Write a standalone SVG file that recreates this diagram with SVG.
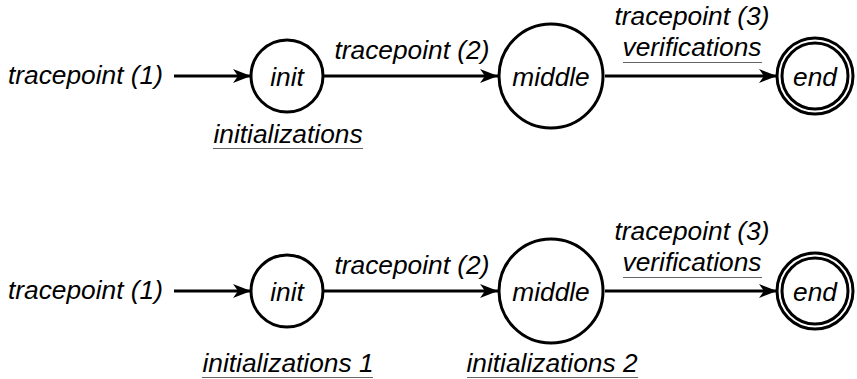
<svg xmlns="http://www.w3.org/2000/svg" width="857" height="379" viewBox="0 0 857 379">
  <style>
    .state { fill: none; stroke: #000; stroke-width: 3; }
    .edge { fill: none; stroke: #000; stroke-width: 3; }
    .lbl { font-family: "Liberation Sans", Arial, Helvetica, sans-serif; font-style: italic; font-size: 26.3px; fill: #000; }
    .mid { text-anchor: middle; }
    .ul { stroke: #666; stroke-width: 1.2; }
  </style>
  <defs>
    <marker id="arrow" markerUnits="userSpaceOnUse" markerWidth="20" markerHeight="16" refX="18" refY="8" orient="auto">
      <path d="M0,1 L18,8 L0,15 L5,8 Z" fill="#000"/>
    </marker>
  </defs>
  <rect width="857" height="379" fill="#fff"/>

  <!-- top automaton -->
  <g id="connectors-top">
    <line class="edge" x1="174" y1="76" x2="251" y2="76" marker-end="url(#arrow)"/>
    <line class="edge" x1="323" y1="76" x2="498" y2="76" marker-end="url(#arrow)"/>
    <line class="edge" x1="605" y1="76" x2="777" y2="76" marker-end="url(#arrow)"/>
  </g>
  <g id="start-top">
    <text class="lbl" x="8" y="84">tracepoint (1)</text>
  </g>
  <g id="init-top">
    <circle class="state" cx="287" cy="76" r="36"/>
    <text class="lbl mid" x="287" y="86">init</text>
    <text class="lbl mid" x="288" y="143">initializations</text>
    <line class="ul" x1="213" y1="148.5" x2="363" y2="148.5"/>
  </g>
  <g id="middle-top">
    <circle class="state" cx="551" cy="76" r="52"/>
    <text class="lbl mid" x="551" y="86">middle</text>
  </g>
  <g id="end-top">
    <circle class="state" cx="815" cy="76" r="38"/>
    <circle class="state" cx="815" cy="76" r="33" stroke-width="2"/>
    <text class="lbl mid" x="815" y="86">end</text>
  </g>
  <g id="edge-labels-top">
    <text class="lbl mid" x="412" y="59">tracepoint (2)</text>
    <text class="lbl mid" x="692" y="25">tracepoint (3)</text>
    <text class="lbl mid" x="692" y="56">verifications</text>
    <line class="ul" x1="623" y1="62.5" x2="762" y2="62.5"/>
  </g>

  <!-- bottom automaton -->
  <g id="connectors-bottom">
    <line class="edge" x1="174" y1="291" x2="251" y2="291" marker-end="url(#arrow)"/>
    <line class="edge" x1="323" y1="291" x2="498" y2="291" marker-end="url(#arrow)"/>
    <line class="edge" x1="605" y1="291" x2="777" y2="291" marker-end="url(#arrow)"/>
  </g>
  <g id="start-bottom">
    <text class="lbl" x="8" y="299">tracepoint (1)</text>
  </g>
  <g id="init-bottom">
    <circle class="state" cx="287" cy="291" r="36"/>
    <text class="lbl mid" x="287" y="301">init</text>
    <text class="lbl mid" x="288" y="372">initializations 1</text>
    <line class="ul" x1="202" y1="377.5" x2="373" y2="377.5"/>
  </g>
  <g id="middle-bottom">
    <circle class="state" cx="551" cy="291" r="52"/>
    <text class="lbl mid" x="551" y="301">middle</text>
    <text class="lbl mid" x="552" y="372">initializations 2</text>
    <line class="ul" x1="467" y1="377.5" x2="638" y2="377.5"/>
  </g>
  <g id="end-bottom">
    <circle class="state" cx="815" cy="291" r="38"/>
    <circle class="state" cx="815" cy="291" r="33" stroke-width="2"/>
    <text class="lbl mid" x="815" y="301">end</text>
  </g>
  <g id="edge-labels-bottom">
    <text class="lbl mid" x="412" y="274">tracepoint (2)</text>
    <text class="lbl mid" x="692" y="240">tracepoint (3)</text>
    <text class="lbl mid" x="692" y="271">verifications</text>
    <line class="ul" x1="623" y1="277.5" x2="762" y2="277.5"/>
  </g>
</svg>
